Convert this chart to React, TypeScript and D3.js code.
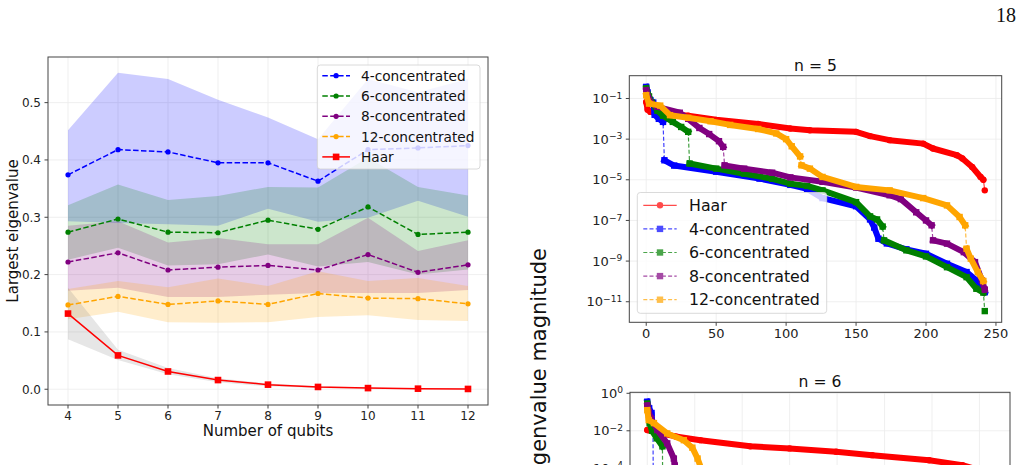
import React from 'react';
import * as d3 from 'd3';

const FONT = 'DejaVu Sans, sans-serif';

// ---- left panel: largest eigenvalue against number of qubits ----
const qubits = [4, 5, 6, 7, 8, 9, 10, 11, 12];

const conc4Mean = [0.374, 0.418, 0.414, 0.395, 0.395, 0.363, 0.418, 0.421, 0.425];
const conc4Lo = [0.293, 0.290, 0.288, 0.285, 0.315, 0.292, 0.299, 0.329, 0.301];
const conc4Hi = [0.452, 0.552, 0.541, 0.505, 0.474, 0.436, 0.541, 0.518, 0.541];

const conc6Mean = [0.274, 0.297, 0.274, 0.273, 0.295, 0.279, 0.318, 0.270, 0.274];
const conc6Lo = [0.226, 0.247, 0.216, 0.218, 0.235, 0.214, 0.222, 0.200, 0.209];
const conc6Hi = [0.321, 0.357, 0.330, 0.337, 0.353, 0.352, 0.404, 0.353, 0.338];

const conc8Mean = [0.222, 0.238, 0.208, 0.213, 0.216, 0.208, 0.235, 0.204, 0.217];
const conc8Lo = [0.172, 0.177, 0.161, 0.161, 0.165, 0.168, 0.168, 0.168, 0.173];
const conc8Hi = [0.285, 0.293, 0.256, 0.264, 0.253, 0.253, 0.299, 0.241, 0.260];

const conc12Mean = [0.147, 0.162, 0.148, 0.154, 0.148, 0.167, 0.159, 0.158, 0.149];
const conc12Lo = [0.122, 0.135, 0.117, 0.116, 0.117, 0.126, 0.129, 0.121, 0.119];
const conc12Hi = [0.175, 0.189, 0.178, 0.193, 0.180, 0.206, 0.189, 0.194, 0.180];

const haarMean = [0.132, 0.059, 0.031, 0.016, 0.008, 0.004, 0.002, 0.001, 0.0005];
const haarLo = [0.087, 0.051, 0.026, 0.012, 0.005, 0.002, 0.001, 0.0003, 0.0001];
const haarHi = [0.177, 0.069, 0.037, 0.019, 0.010, 0.005, 0.003, 0.0015, 0.001];

const leftYTicks = [0, 0.1, 0.2, 0.3, 0.4, 0.5];

// ---- right panels: sorted eigenvalue spectra, [index, log10 eigenvalue], split at jumps ----
type Pt = [number, number];

const haar5: Pt[][] = [
  [[0, -1.17], [1, -1.55], [3, -1.66], [8, -1.68], [30, -1.85], [50, -2.05], [80, -2.25], [103, -2.48],
   [117, -2.56], [150, -2.64], [160, -2.85], [174, -3.05], [198, -3.22], [205, -3.46], [222, -3.79],
   [226, -3.95], [233, -4.37], [239, -4.86], [241, -5.0]],
  [[242, -5.52]],
];
const conc4n5: Pt[][] = [
  [[0, -0.43], [1, -0.7], [3, -1.08], [5, -1.2], [6, -1.8], [9, -2.0], [12, -2.15]],
  [[13, -4.04], [20, -4.3], [50, -4.6], [81, -4.94], [103, -5.25], [115, -5.45], [126, -5.9], [150, -6.3],
   [160, -6.95], [163, -7.35], [166, -7.9], [172, -8.13], [186, -8.42], [200, -8.64], [215, -9.13],
   [229, -9.54], [236, -9.95], [242, -10.53]],
];
const conc6n5: Pt[][] = [
  [[0, -0.5], [2, -0.9], [4, -1.2], [8, -1.6], [12, -1.85], [19, -2.15], [25, -2.4], [30, -2.64]],
  [[31, -4.2], [50, -4.45], [70, -4.7], [90, -4.95], [103, -5.19], [115, -5.3], [126, -5.52], [150, -6.1],
   [160, -6.8], [165, -6.95], [169, -7.3]],
  [[170, -7.98], [186, -8.47], [200, -8.77], [215, -9.3], [229, -9.79], [236, -10.36], [241, -10.55]],
  [[242, -11.46]],
];
const conc8n5: Pt[][] = [
  [[0, -0.6], [3, -1.2], [8, -1.41], [24, -1.7], [30, -2.0], [38, -2.45], [45, -2.75], [52, -3.1], [55, -3.38]],
  [[56, -4.29], [70, -4.45], [90, -4.65], [103, -4.88], [126, -5.1], [150, -5.38], [174, -5.76], [182, -5.95],
   [193, -6.6], [200, -7.0], [204, -7.24]],
  [[205, -7.98], [215, -8.14], [227, -8.56], [235, -9.05], [240, -9.95], [242, -10.4]],
];
const conc12n5: Pt[][] = [
  [[0, -0.84], [2, -1.25], [10, -1.35], [17, -1.82], [30, -1.95], [46, -2.12], [60, -2.3], [80, -2.5],
   [93, -2.72], [100, -3.0], [104, -3.35], [110, -3.85]],
  [[111, -4.29], [117, -4.45], [126, -4.86], [150, -5.35], [174, -5.52], [198, -5.9], [215, -6.26],
   [224, -6.83], [228, -7.24]],
  [[229, -8.39], [232, -8.88], [237, -9.54], [241, -9.98]],
];

const haar6: Pt[][] = [
  [[0, -1.96], [20, -2.1], [60, -2.3], [112, -2.5], [217, -2.83], [300, -2.94], [398, -3.12], [474, -3.3],
   [594, -3.57], [664, -3.83], [700, -4.1]],
];
const conc4n6: Pt[][] = [[[0, -0.45], [4, -0.8], [9, -1.05], [12, -1.9]], [[13, -6.0]]];
const conc6n6: Pt[][] = [
  [[0, -0.55], [2, -1.0], [5, -1.6], [10, -2.0], [20, -2.4], [32, -2.83]],
  [[33, -7.5]],
];
const conc8n6: Pt[][] = [
  [[0, -0.65], [3, -1.0], [8, -1.35], [21, -1.96], [42, -2.67], [56, -3.48], [58, -3.85]],
  [[59, -8.0]],
];
const conc12n6: Pt[][] = [
  [[0, -0.9], [3, -1.43], [14, -1.59], [42, -2.14], [77, -2.5], [95, -2.9], [106, -3.48], [115, -4.1]],
];

const n5XTicks = [0, 50, 100, 150, 200, 250];
const n5YTicks = [-1, -3, -5, -7, -9, -11];
const n6XTicks = [0, 100, 200, 300, 400, 500, 600, 700];
const n6YTicks = [0, -2, -4];

const GRID = '#ebebeb';
const SPINE = '#444';

function QubitPanel() {
  const L = 48, R = 488, T = 57, B = 405;
  const series = [
    { label: '4-concentrated', color: 'blue', fill: 'blue', mean: conc4Mean, lo: conc4Lo, hi: conc4Hi, haar: false },
    { label: '6-concentrated', color: 'green', fill: 'green', mean: conc6Mean, lo: conc6Lo, hi: conc6Hi, haar: false },
    { label: '8-concentrated', color: 'purple', fill: 'purple', mean: conc8Mean, lo: conc8Lo, hi: conc8Hi, haar: false },
    { label: '12-concentrated', color: 'orange', fill: 'orange', mean: conc12Mean, lo: conc12Lo, hi: conc12Hi, haar: false },
    { label: 'Haar', color: 'red', fill: 'gray', mean: haarMean, lo: haarLo, hi: haarHi, haar: true },
  ];
  const [xmin, xmax] = d3.extent(qubits) as [number, number];
  const xp = (xmax - xmin) * 0.05;
  const x = d3.scaleLinear().domain([xmin - xp, xmax + xp]).range([L, R]);
  const [ymin, ymax] = d3.extent(series.flatMap(s => [...s.lo, ...s.hi])) as [number, number];
  const yp = (ymax - ymin) * 0.05;
  const y = d3.scaleLinear().domain([ymin - yp, ymax + yp]).range([B, T]);
  const fmt = d3.format('.1f');

  return (
    <g>
      <clipPath id="clip-left"><rect x={L} y={T} width={R - L} height={B - T} /></clipPath>
      {qubits.map(q => <line key={'gx' + q} x1={x(q)} x2={x(q)} y1={T} y2={B} stroke={GRID} strokeWidth={0.8} />)}
      {leftYTicks.map(v => <line key={'gy' + v} x1={L} x2={R} y1={y(v)} y2={y(v)} stroke={GRID} strokeWidth={0.8} />)}
      <g clipPath="url(#clip-left)">
        {series.map(s => {
          const area = d3.area<number>()
            .x((_, i) => x(qubits[i]))
            .y0((_, i) => y(s.lo[i]))
            .y1((_, i) => y(s.hi[i]));
          return <path key={'a' + s.label} d={area(s.mean) || ''} fill={s.fill} fillOpacity={0.2} />;
        })}
        {series.map(s => {
          const line = d3.line<number>().x((_, i) => x(qubits[i])).y(d => y(d));
          return (
            <g key={'l' + s.label}>
              <path d={line(s.mean) || ''} fill="none" stroke={s.color} strokeWidth={1.5}
                strokeDasharray={s.haar ? undefined : '5.5,2.4'} />
              {s.mean.map((v, i) => s.haar
                ? <rect key={i} x={x(qubits[i]) - 3.3} y={y(v) - 3.3} width={6.6} height={6.6} fill={s.color} />
                : <circle key={i} cx={x(qubits[i])} cy={y(v)} r={2.6} fill={s.color} />)}
            </g>
          );
        })}
      </g>
      <rect x={L} y={T} width={R - L} height={B - T} fill="none" stroke={SPINE} strokeWidth={1} />
      {qubits.map(q => (
        <g key={'tx' + q}>
          <line x1={x(q)} x2={x(q)} y1={B} y2={B + 3.5} stroke={SPINE} />
          <text x={x(q)} y={420} fontSize={12} textAnchor="middle" fill="#222">{q}</text>
        </g>
      ))}
      {leftYTicks.map(v => (
        <g key={'ty' + v}>
          <line x1={L - 3.5} x2={L} y1={y(v)} y2={y(v)} stroke={SPINE} />
          <text x={L - 7} y={y(v)} dy="0.36em" fontSize={12} textAnchor="end" fill="#222">{fmt(v)}</text>
        </g>
      ))}
      <text x={(L + R) / 2} y={436} fontSize={15} textAnchor="middle" fill="#111">Number of qubits</text>
      <text transform={`translate(18,${(T + B) / 2}) rotate(-90)`} fontSize={15} textAnchor="middle" fill="#111">Largest eigenvalue</text>

      {/* legend */}
      <rect x={317.3} y={65} width={162.7} height={104} rx={3} fill="#fff" fillOpacity={0.8} stroke="#d0d0d0" strokeWidth={0.8} />
      {series.map((s, i) => {
        const cy = 75.7 + i * 20.3;
        return (
          <g key={'lg' + s.label}>
            <line x1={322.3} x2={350} y1={cy} y2={cy} stroke={s.color} strokeWidth={1.5}
              strokeDasharray={s.haar ? undefined : '5.5,2.4'} />
            {s.haar
              ? <rect x={336.1 - 3.3} y={cy - 3.3} width={6.6} height={6.6} fill={s.color} />
              : <circle cx={336.1} cy={cy} r={2.6} fill={s.color} />}
            <text x={361} y={cy} dy="0.36em" fontSize={13.7} fill="#111">{s.label}</text>
          </g>
        );
      })}
    </g>
  );
}

type Spec = { label: string; color: string; runs: Pt[][]; haar: boolean };

function Sup({ base, exp }: { base: string; exp: number }) {
  return (
    <>
      <tspan>{base}</tspan>
      <tspan dy="-0.5em" fontSize="0.7em">{exp < 0 ? '\u2212' + Math.abs(exp) : String(exp)}</tspan>
    </>
  );
}

function SpectrumPanel(props: {
  id: string; L: number; R: number; T: number; B: number;
  xDomain: [number, number]; yDomain: [number, number];
  xTicks: number[]; yTicks: number[]; title: string; titleY: number;
  series: Spec[]; legend: boolean; xLabels: boolean;
}) {
  const { id, L, R, T, B, xDomain, yDomain, xTicks, yTicks, title, titleY, series, legend, xLabels } = props;
  const x = d3.scaleLinear().domain(xDomain).range([L, R]);
  const y = d3.scaleLog().domain([10 ** yDomain[0], 10 ** yDomain[1]]).range([B, T]);
  const line = d3.line<Pt>().x(d => x(d[0])).y(d => y(10 ** d[1]));

  return (
    <g>
      <clipPath id={id}><rect x={L} y={T} width={R - L} height={B - T} /></clipPath>
      {xTicks.map(t => <line key={'gx' + t} x1={x(t)} x2={x(t)} y1={T} y2={B} stroke={GRID} strokeWidth={0.8} />)}
      {yTicks.map(t => <line key={'gy' + t} x1={L} x2={R} y1={y(10 ** t)} y2={y(10 ** t)} stroke={GRID} strokeWidth={0.8} />)}
      <g clipPath={`url(#${id})`}>
        {series.map(s => (
          <g key={s.label}>
            <path d={line(s.runs.flat()) || ''} fill="none" stroke={s.color} strokeWidth={1.2} strokeOpacity={0.75}
              strokeDasharray={s.haar ? undefined : '4,2.2'} />
            {s.runs.filter(r => r.length > 1).map((r, k) => (
              <path key={k} d={line(r) || ''} fill="none" stroke={s.color} strokeWidth={6}
                strokeLinecap={s.haar ? 'round' : 'square'} strokeLinejoin="round" />
            ))}
            {s.runs.flat().map((d, k) => s.haar
              ? <circle key={k} cx={x(d[0])} cy={y(10 ** d[1])} r={3.2} fill={s.color} />
              : <rect key={k} x={x(d[0]) - 3.2} y={y(10 ** d[1]) - 3.2} width={6.4} height={6.4} fill={s.color} />)}
          </g>
        ))}
      </g>
      <rect x={L} y={T} width={R - L} height={B - T} fill="none" stroke={SPINE} strokeWidth={1} />
      {xTicks.map(t => (
        <g key={'tx' + t}>
          <line x1={x(t)} x2={x(t)} y1={B} y2={B + 3.5} stroke={SPINE} />
          {xLabels && <text x={x(t)} y={B + 16} fontSize={13} textAnchor="middle" fill="#222">{t}</text>}
        </g>
      ))}
      {yTicks.map(t => (
        <g key={'ty' + t}>
          <line x1={L - 3.5} x2={L} y1={y(10 ** t)} y2={y(10 ** t)} stroke={SPINE} />
          <text x={L - 7} y={y(10 ** t)} dy="0.36em" fontSize={13} textAnchor="end" fill="#222">
            <Sup base="10" exp={t} />
          </text>
        </g>
      ))}
      <text x={(L + R) / 2} y={titleY} fontSize={15.6} textAnchor="middle" fill="#111">{title}</text>
      {legend && (
        <g>
          <rect x={637.3} y={192.5} width={189.4} height={120.8} rx={3} fill="#fff" fillOpacity={0.8} stroke="#d0d0d0" strokeWidth={0.8} />
          {series.map((s, i) => {
            const cy = 205.3 + i * 23.6;
            return (
              <g key={'lg' + s.label} >
                <g opacity={0.7}>
                  <line x1={643.3} x2={676.7} y1={cy} y2={cy} stroke={s.color} strokeWidth={1.2}
                    strokeDasharray={s.haar ? undefined : '4,2.2'} />
                  {s.haar
                    ? <circle cx={660} cy={cy} r={3.2} fill={s.color} />
                    : <rect x={660 - 3.2} y={cy - 3.2} width={6.4} height={6.4} fill={s.color} />}
                </g>
                <text x={689} y={cy} dy="0.36em" fontSize={15.8} fill="#111">{s.label}</text>
              </g>
            );
          })}
        </g>
      )}
    </g>
  );
}

function padLog(runs: Pt[][][]): [number, number] {
  const [lo, hi] = d3.extent(runs.flat(2).map(d => d[1])) as [number, number];
  const p = (hi - lo) * 0.05;
  return [lo - p, hi + p];
}

export default function App() {
  const n5: Spec[] = [
    { label: 'Haar', color: 'red', runs: haar5, haar: true },
    { label: '4-concentrated', color: 'blue', runs: conc4n5, haar: false },
    { label: '6-concentrated', color: 'green', runs: conc6n5, haar: false },
    { label: '8-concentrated', color: 'purple', runs: conc8n5, haar: false },
    { label: '12-concentrated', color: 'orange', runs: conc12n5, haar: false },
  ];
  const n6: Spec[] = [
    { label: 'Haar', color: 'red', runs: haar6, haar: true },
    { label: '4-concentrated', color: 'blue', runs: conc4n6, haar: false },
    { label: '6-concentrated', color: 'green', runs: conc6n6, haar: false },
    { label: '8-concentrated', color: 'purple', runs: conc8n6, haar: false },
    { label: '12-concentrated', color: 'orange', runs: conc12n6, haar: false },
  ];
  const n5Max = 242; // 3^5 eigenvalues
  const n6Max = 728; // 3^6 eigenvalues

  return (
    <svg width={1024} height={465} fontFamily={FONT}
      style={{ position: 'absolute', left: 0, top: 0, display: 'block' }}>
      <rect width={1024} height={465} fill="#fff" />
      <text x={1016} y={22} textAnchor="end" fontSize={20} fontFamily="Liberation Serif, serif" fill="#111">18</text>
      <QubitPanel />
      <SpectrumPanel id="clip-n5" L={629.3} R={1001.7} T={75.7} B={322.3}
        xDomain={[-n5Max * 0.05, n5Max * 1.05]} yDomain={padLog(n5.map(s => s.runs))}
        xTicks={n5XTicks} yTicks={n5YTicks} title="n = 5" titleY={70.7} series={n5} legend xLabels />
      <SpectrumPanel id="clip-n6" L={630} R={1010} T={392.3} B={638.9}
        xDomain={[-n6Max * 0.05, n6Max * 1.05]} yDomain={[-13.1, 0.053]}
        xTicks={n6XTicks} yTicks={n6YTicks} title="n = 6" titleY={387} series={n6} legend={false} xLabels={false} />
      <text transform="translate(546,248) rotate(-90)" textAnchor="end" fontSize={21} fill="#111">
        Eigenvalue magnitude
      </text>
    </svg>
  );
}
